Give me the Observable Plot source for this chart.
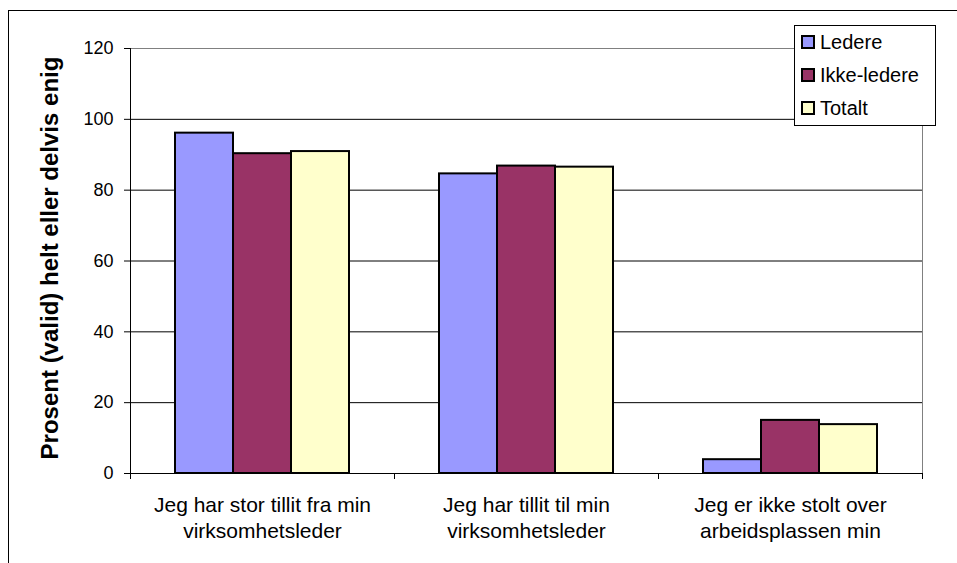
<!DOCTYPE html>
<html>
<head>
<meta charset="utf-8">
<script src="https://cdn.jsdelivr.net/npm/d3@7"></script>
<script src="https://cdn.jsdelivr.net/npm/@observablehq/plot@0.6"></script>
<style>
  body { margin: 0; background: #fff; font-family: "Liberation Sans", Arial, sans-serif; }
  #wrap { position: relative; width: 957px; height: 563px; overflow: hidden; }
  #outer { position: absolute; left: 8px; top: 10px; right: -5px; bottom: -5px;
           border-top: 1px solid #000; border-left: 1px solid #000; pointer-events: none; }
  #legend { position: absolute; left: 794px; top: 25px; width: 140px; height: 99px;
            border: 1px solid #000; background: #fff; box-sizing: content-box; }
  .item { position: absolute; left: 6px; height: 24px; display: flex; align-items: center;
          font-size: 20px; color: #000; white-space: nowrap; }
  .sw { width: 10px; height: 10px; border: 2px solid #000; margin-right: 5px; }
</style>
</head>
<body>
<div id="wrap"><div id="outer"></div></div>
<script>
const categories = [
  "Jeg har stor tillit fra min virksomhetsleder",
  "Jeg har tillit til min virksomhetsleder",
  "Jeg er ikke stolt over arbeidsplassen min"
];
const categoryLabels = [
  "Jeg har stor tillit fra min\nvirksomhetsleder",
  "Jeg har tillit til min\nvirksomhetsleder",
  "Jeg er ikke stolt over\narbeidsplassen min"
];
const series = ["Ledere", "Ikke-ledere", "Totalt"];
const ledere = [96.1, 84.6, 3.9];
const ikkeLedere = [90.3, 86.8, 15.0];
const totalt = [90.9, 86.5, 13.8];
const yTicks = [0, 20, 40, 60, 80, 100, 120];
const colors = ["#9999FF", "#993366", "#FFFFCC"];
const yLabel = "Prosent (valid) helt eller delvis enig";

const seriesValues = [ledere, ikkeLedere, totalt];
const data = [];
categories.forEach((c, i) => series.forEach((s, j) => data.push({category: c, series: s, value: seriesValues[j][i]})));

const plot = Plot.plot({
  width: 957, height: 563,
  marginLeft: 130, marginRight: 35, marginTop: 48, marginBottom: 90,
  style: { fontFamily: "Liberation Sans, Arial, sans-serif", fontSize: "17px", background: "transparent", color: "#000" },
  fx: { domain: categories, padding: 0, label: null, axis: null },
  x: { domain: series, paddingInner: 0, paddingOuter: 0.75, axis: null },
  y: { domain: [0, 120], axis: null },
  color: { domain: series, range: colors },
  marks: [
    Plot.ruleY(yTicks.filter(t => t > 0 && t < 120), { stroke: "#000" }),
    Plot.barY(data, { fx: "category", x: "series", y: "value", fill: "series", stroke: "#000", strokeWidth: 2 }),
    Plot.ruleY([120], { stroke: "#808080" }),
    Plot.ruleY([0], { stroke: "#000" }),
    Plot.axisY({ ticks: yTicks, tickSize: 6, tickPadding: 11, fontSize: 18, label: null }),
    Plot.axisFx({ anchor: "bottom", domain: categories, tickSize: 0, tickPadding: 20, fontSize: 21, lineHeight: 1.25,
                  tickFormat: d => categoryLabels[categories.indexOf(d)], label: null }),
    Plot.text([{ c: categories[0], t: yLabel }], { fx: "c", text: "t", frameAnchor: "left", textAnchor: "middle",
                  lineAnchor: "middle", rotate: -90, dx: -80, dy: -3, fontSize: 24, fontWeight: "bold" })
  ]
});

// plot-area border lines and category boundary ticks derived from the scales
const svg = d3.select(plot.tagName.toLowerCase() === "svg" ? plot : plot.querySelector("svg"));
const fx = plot.scale("fx");
const y = plot.scale("y");
const y0 = y.apply(0), y1 = y.apply(120);
const left = fx.apply(categories[0]);
const right = fx.apply(categories[categories.length - 1]) + fx.bandwidth;
const g = svg.append("g");
g.append("line").attr("x1", right + 0.5).attr("x2", right + 0.5).attr("y1", y1).attr("y2", y0).attr("stroke", "#808080");
g.append("line").attr("x1", left + 0.5).attr("x2", left + 0.5).attr("y1", y1).attr("y2", y0 + 6).attr("stroke", "#000");
categories.forEach(c => {
  const e = fx.apply(c) + fx.bandwidth;
  g.append("line").attr("x1", e + 0.5).attr("x2", e + 0.5).attr("y1", y0).attr("y2", y0 + 6).attr("stroke", "#000");
});

const wrap = document.getElementById("wrap");
wrap.insertBefore(plot, wrap.firstChild);

const legend = document.createElement("div");
legend.id = "legend";
series.forEach((s, i) => {
  const it = document.createElement("div");
  it.className = "item";
  it.style.top = (4 + i * 33) + "px";
  const sw = document.createElement("span");
  sw.className = "sw";
  sw.style.background = colors[i];
  const t = document.createElement("span");
  t.textContent = s;
  it.appendChild(sw); it.appendChild(t);
  legend.appendChild(it);
});
wrap.appendChild(legend);
</script>
</body>
</html>
